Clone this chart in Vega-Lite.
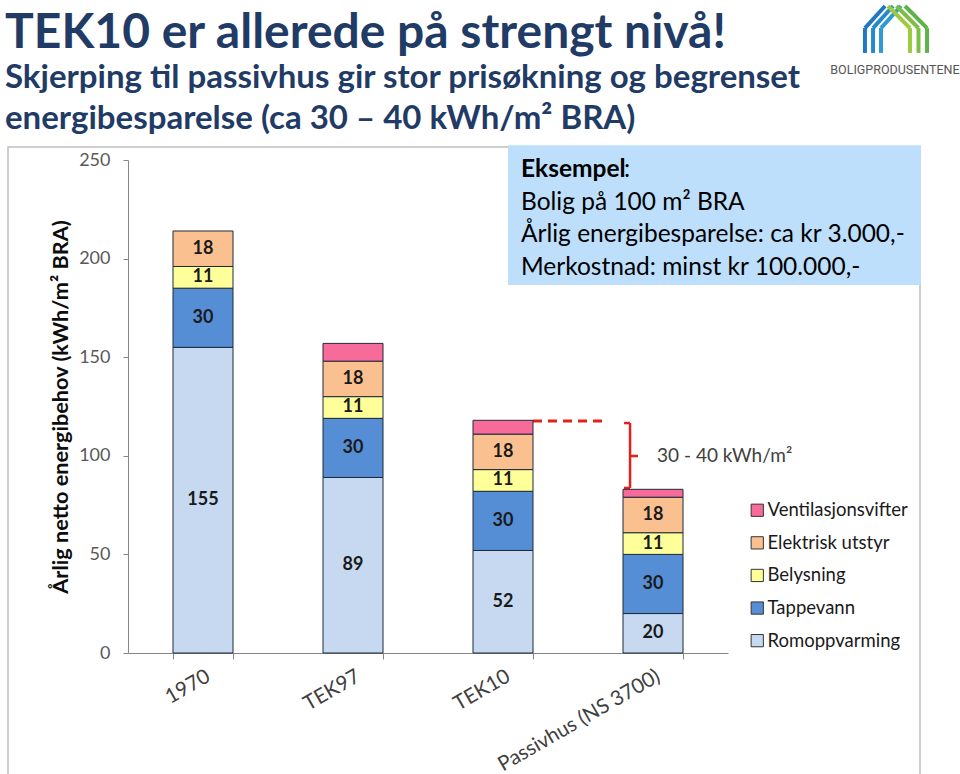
{
  "$schema": "https://vega.github.io/schema/vega-lite/v6.json",
  "width": 600,
  "height": 493,
  "autosize": {"type": "none"},
  "padding": {"left": 128, "top": 160, "right": 232, "bottom": 121},
  "background": "white",
  "config": {"view": {"stroke": null}, "font": "Lato"},
  "title": {
    "text": "TEK10 er allerede på strengt nivå!",
    "subtitle": ["Skjerping til passivhus gir stor prisøkning og begrenset", "energibesparelse (ca 30 – 40 kWh/m² BRA)"],
    "anchor": "start",
    "frame": "group",
    "dx": -123,
    "dy": 142,
    "font": "Lato",
    "fontSize": 48,
    "fontWeight": "bold",
    "color": "#1F3B66",
    "subtitleFont": "Lato",
    "subtitleFontSize": 33,
    "subtitleFontWeight": "bold",
    "subtitleColor": "#1F3B66",
    "subtitleLineHeight": 41,
    "subtitlePadding": 4,
    "offset": 10
  },
  "data": {
    "values": [
      {"cat": "1970", "type": "Romoppvarming", "value": 155, "rank": 1},
      {"cat": "1970", "type": "Tappevann", "value": 30, "rank": 2},
      {"cat": "1970", "type": "Belysning", "value": 11, "rank": 3},
      {"cat": "1970", "type": "Elektrisk utstyr", "value": 18, "rank": 4},
      {"cat": "TEK97", "type": "Romoppvarming", "value": 89, "rank": 1},
      {"cat": "TEK97", "type": "Tappevann", "value": 30, "rank": 2},
      {"cat": "TEK97", "type": "Belysning", "value": 11, "rank": 3},
      {"cat": "TEK97", "type": "Elektrisk utstyr", "value": 18, "rank": 4},
      {"cat": "TEK97", "type": "Ventilasjonsvifter", "value": 9, "rank": 5},
      {"cat": "TEK10", "type": "Romoppvarming", "value": 52, "rank": 1},
      {"cat": "TEK10", "type": "Tappevann", "value": 30, "rank": 2},
      {"cat": "TEK10", "type": "Belysning", "value": 11, "rank": 3},
      {"cat": "TEK10", "type": "Elektrisk utstyr", "value": 18, "rank": 4},
      {"cat": "TEK10", "type": "Ventilasjonsvifter", "value": 7, "rank": 5},
      {"cat": "Passivhus (NS 3700)", "type": "Romoppvarming", "value": 20, "rank": 1},
      {"cat": "Passivhus (NS 3700)", "type": "Tappevann", "value": 30, "rank": 2},
      {"cat": "Passivhus (NS 3700)", "type": "Belysning", "value": 11, "rank": 3},
      {"cat": "Passivhus (NS 3700)", "type": "Elektrisk utstyr", "value": 18, "rank": 4},
      {"cat": "Passivhus (NS 3700)", "type": "Ventilasjonsvifter", "value": 4, "rank": 5}
    ]
  },
  "resolve": {"scale": {"x": "independent"}, "axis": {"x": "independent"}},
  "layer": [
    {
      "data": {"values": [{}]},
      "layer": [
        {
          "mark": {"type": "rect", "fill": "transparent", "stroke": "#BFBFBF", "strokeWidth": 1.5},
          "encoding": {
            "x": {"datum": -0.8, "type": "quantitative", "scale": {"domain": [0, 4], "nice": false, "zero": false}, "axis": null},
            "x2": {"datum": 5.28},
            "y": {"datum": 256.6, "type": "quantitative", "scale": {"domain": [0, 250], "nice": false}},
            "y2": {"datum": -70}
          }
        },
        {
          "mark": {"type": "rect", "fill": "#BDDFFC"},
          "encoding": {
            "x": {"datum": 2.533, "type": "quantitative", "axis": null},
            "x2": {"datum": 5.287},
            "y": {"datum": 257.5, "type": "quantitative"},
            "y2": {"datum": 186.6}
          }
        },
        {
          "mark": {"type": "text", "align": "left", "baseline": "alphabetic", "fontSize": 24.5, "fontWeight": "bold", "color": "#000000", "text": "Eksempel"},
          "encoding": {"x": {"datum": 2.62, "type": "quantitative", "axis": null}, "y": {"datum": 241.2, "type": "quantitative"}}
        },
        {
          "mark": {"type": "text", "align": "left", "baseline": "alphabetic", "fontSize": 24.5, "color": "#000000", "text": ":", "dx": 103},
          "encoding": {"x": {"datum": 2.62, "type": "quantitative", "axis": null}, "y": {"datum": 241.2, "type": "quantitative"}}
        },
        {
          "mark": {"type": "text", "align": "left", "baseline": "alphabetic", "fontSize": 24.5, "color": "#000000", "text": "Bolig på 100 m² BRA"},
          "encoding": {"x": {"datum": 2.62, "type": "quantitative", "axis": null}, "y": {"datum": 224.6, "type": "quantitative"}}
        },
        {
          "mark": {"type": "text", "align": "left", "baseline": "alphabetic", "fontSize": 24.5, "color": "#000000", "text": "Årlig energibesparelse: ca kr 3.000,-"},
          "encoding": {"x": {"datum": 2.62, "type": "quantitative", "axis": null}, "y": {"datum": 208.2, "type": "quantitative"}}
        },
        {
          "mark": {"type": "text", "align": "left", "baseline": "alphabetic", "fontSize": 24.5, "color": "#000000", "text": "Merkostnad: minst kr 100.000,-"},
          "encoding": {"x": {"datum": 2.62, "type": "quantitative", "axis": null}, "y": {"datum": 191.7, "type": "quantitative"}}
        },
        {
          "mark": {"type": "text", "align": "center", "baseline": "middle", "fontSize": 12.5, "font": "Roboto", "color": "#555555", "text": "BOLIGPRODUSENTENE"},
          "encoding": {"x": {"datum": 5.113, "type": "quantitative", "axis": null}, "y": {"datum": 295.6, "type": "quantitative"}}
        },
        {
          "mark": {"type": "rule", "color": "#1F78C1", "strokeWidth": 4},
          "encoding": {"x": {"datum": 4.913, "type": "quantitative", "axis": null}, "y": {"datum": 304.3, "type": "quantitative"}, "y2": {"datum": 316.9}}
        },
        {
          "mark": {"type": "rule", "color": "#1F78C1", "strokeWidth": 4},
          "encoding": {"x": {"datum": 4.913, "type": "quantitative", "axis": null}, "x2": {"datum": 5.047}, "y": {"datum": 316.9, "type": "quantitative"}, "y2": {"datum": 328.1}}
        },
        {
          "mark": {"type": "rule", "color": "#2589CC", "strokeWidth": 4},
          "encoding": {"x": {"datum": 4.967, "type": "quantitative", "axis": null}, "y": {"datum": 304.3, "type": "quantitative"}, "y2": {"datum": 316.9}}
        },
        {
          "mark": {"type": "rule", "color": "#2589CC", "strokeWidth": 4},
          "encoding": {"x": {"datum": 4.967, "type": "quantitative", "axis": null}, "x2": {"datum": 5.1}, "y": {"datum": 316.9, "type": "quantitative"}, "y2": {"datum": 328.1}}
        },
        {
          "mark": {"type": "rule", "color": "#2E9AD6", "strokeWidth": 4},
          "encoding": {"x": {"datum": 5.02, "type": "quantitative", "axis": null}, "y": {"datum": 304.3, "type": "quantitative"}, "y2": {"datum": 316.9}}
        },
        {
          "mark": {"type": "rule", "color": "#2E9AD6", "strokeWidth": 4},
          "encoding": {"x": {"datum": 5.02, "type": "quantitative", "axis": null}, "x2": {"datum": 5.153}, "y": {"datum": 316.9, "type": "quantitative"}, "y2": {"datum": 328.1}}
        },
        {
          "mark": {"type": "rule", "color": "#9CCB3B", "strokeWidth": 4},
          "encoding": {"x": {"datum": 5.067, "type": "quantitative", "axis": null}, "x2": {"datum": 5.213}, "y": {"datum": 328.1, "type": "quantitative"}, "y2": {"datum": 316.9}}
        },
        {
          "mark": {"type": "rule", "color": "#9CCB3B", "strokeWidth": 4},
          "encoding": {"x": {"datum": 5.213, "type": "quantitative", "axis": null}, "y": {"datum": 316.9, "type": "quantitative"}, "y2": {"datum": 304.3}}
        },
        {
          "mark": {"type": "rule", "color": "#7DBE43", "strokeWidth": 4},
          "encoding": {"x": {"datum": 5.123, "type": "quantitative", "axis": null}, "x2": {"datum": 5.27}, "y": {"datum": 328.1, "type": "quantitative"}, "y2": {"datum": 316.9}}
        },
        {
          "mark": {"type": "rule", "color": "#7DBE43", "strokeWidth": 4},
          "encoding": {"x": {"datum": 5.27, "type": "quantitative", "axis": null}, "y": {"datum": 316.9, "type": "quantitative"}, "y2": {"datum": 304.3}}
        },
        {
          "mark": {"type": "rule", "color": "#5DB24A", "strokeWidth": 4},
          "encoding": {"x": {"datum": 5.18, "type": "quantitative", "axis": null}, "x2": {"datum": 5.327}, "y": {"datum": 328.1, "type": "quantitative"}, "y2": {"datum": 316.9}}
        },
        {
          "mark": {"type": "rule", "color": "#5DB24A", "strokeWidth": 4},
          "encoding": {"x": {"datum": 5.327, "type": "quantitative", "axis": null}, "y": {"datum": 316.9, "type": "quantitative"}, "y2": {"datum": 304.3}}
        },
        {
          "mark": {"type": "rect", "fill": "white"},
          "encoding": {
            "x": {"datum": 3.46, "type": "quantitative", "axis": null},
            "x2": {"datum": 4.02},
            "y": {"datum": 103, "type": "quantitative"},
            "y2": {"datum": 97}
          }
        },
        {
          "mark": {"type": "rect", "fill": "white"},
          "encoding": {
            "x": {"datum": 3.293, "type": "quantitative", "axis": null},
            "x2": {"datum": 3.345},
            "y": {"datum": 102, "type": "quantitative"},
            "y2": {"datum": 98}
          }
        },
        {
          "mark": {"type": "rule", "color": "#E3201B", "strokeWidth": 3, "strokeDash": [9, 6]},
          "encoding": {
            "x": {"datum": 2.7, "type": "quantitative", "axis": null},
            "x2": {"datum": 3.18},
            "y": {"datum": 117.6, "type": "quantitative"}
          }
        },
        {
          "mark": {"type": "rule", "color": "#E3201B", "strokeWidth": 2.5},
          "encoding": {
            "x": {"datum": 3.347, "type": "quantitative", "axis": null},
            "y": {"datum": 116.6, "type": "quantitative"},
            "y2": {"datum": 83.7}
          }
        },
        {
          "mark": {"type": "rule", "color": "#E3201B", "strokeWidth": 2.5},
          "encoding": {
            "x": {"datum": 3.307, "type": "quantitative", "axis": null},
            "x2": {"datum": 3.347},
            "y": {"datum": 116.6, "type": "quantitative"}
          }
        },
        {
          "mark": {"type": "rule", "color": "#E3201B", "strokeWidth": 2.5},
          "encoding": {
            "x": {"datum": 3.307, "type": "quantitative", "axis": null},
            "x2": {"datum": 3.347},
            "y": {"datum": 83.7, "type": "quantitative"}
          }
        },
        {
          "mark": {"type": "rule", "color": "#E3201B", "strokeWidth": 2.5},
          "encoding": {
            "x": {"datum": 3.347, "type": "quantitative", "axis": null},
            "x2": {"datum": 3.4},
            "y": {"datum": 99.9, "type": "quantitative"}
          }
        },
        {
          "mark": {"type": "text", "align": "left", "baseline": "middle", "fontSize": 19, "color": "#404040", "text": "30 - 40 kWh/m²"},
          "encoding": {"x": {"datum": 3.527, "type": "quantitative", "axis": null}, "y": {"datum": 99.9, "type": "quantitative"}}
        }
      ]
    },
    {
      "transform": [
        {"stack": "value", "groupby": ["cat"], "sort": [{"field": "rank", "order": "ascending"}], "as": ["v0", "v1"]}
      ],
      "layer": [
        {
          "mark": {"type": "bar", "stroke": "#1E2A38", "strokeWidth": 1},
          "encoding": {
            "x": {
              "field": "cat", "type": "nominal",
              "sort": ["1970", "TEK97", "TEK10", "Passivhus (NS 3700)"],
              "scale": {"paddingInner": 0.6, "paddingOuter": 0.3},
              "axis": {"title": null, "labelAngle": -30, "labelFontSize": 20.5, "labelColor": "#404040", "labelPadding": 7, "labelLimit": 400, "tickBand": "extent", "tickSize": 6, "tickColor": "#868686", "domainColor": "#868686", "grid": false}
            },
            "y": {
              "field": "v0", "type": "quantitative",
              "scale": {"domain": [0, 250], "nice": false},
              "axis": {"title": "Årlig netto energibehov (kWh/m² BRA)", "titleFontSize": 21.7, "titleFontWeight": "bold", "titleColor": "#0d0d0d", "values": [0, 50, 100, 150, 200, 250], "labelFontSize": 18, "labelColor": "#595959", "tickSize": 5, "tickColor": "#868686", "domainColor": "#868686", "gridColor": "#868686", "labelPadding": 13, "titlePadding": 6}
            },
            "y2": {"field": "v1"},
            "color": {
              "field": "type", "type": "nominal",
              "scale": {"domain": ["Ventilasjonsvifter", "Elektrisk utstyr", "Belysning", "Tappevann", "Romoppvarming"], "range": ["#F76B9A", "#FAC090", "#FFFF99", "#558ED5", "#C6D9F1"]},
              "legend": {"title": null, "orient": "none", "legendX": 620, "legendY": 341, "symbolType": "square", "symbolSize": 150, "symbolStrokeColor": "#333333", "symbolStrokeWidth": 1, "labelFontSize": 18.5, "labelColor": "#1a1a1a", "rowPadding": 13.6, "labelOffset": 1}
            }
          }
        },
        {
          "transform": [
            {"filter": "datum.type !== 'Ventilasjonsvifter'"},
            {"fold": ["v0", "v1"], "as": ["edge", "pos"]},
            {"aggregate": [{"op": "mean", "field": "pos", "as": "mid"}], "groupby": ["cat", "type", "value"]}
          ],
          "mark": {"type": "text", "fontWeight": "bold", "fontSize": 18, "color": "#1a1a1a", "baseline": "middle"},
          "encoding": {
            "x": {"field": "cat", "type": "nominal", "sort": ["1970", "TEK97", "TEK10", "Passivhus (NS 3700)"]},
            "y": {"field": "mid", "type": "quantitative"},
            "text": {"field": "value"}
          }
        }
      ]
    }
  ]
}
